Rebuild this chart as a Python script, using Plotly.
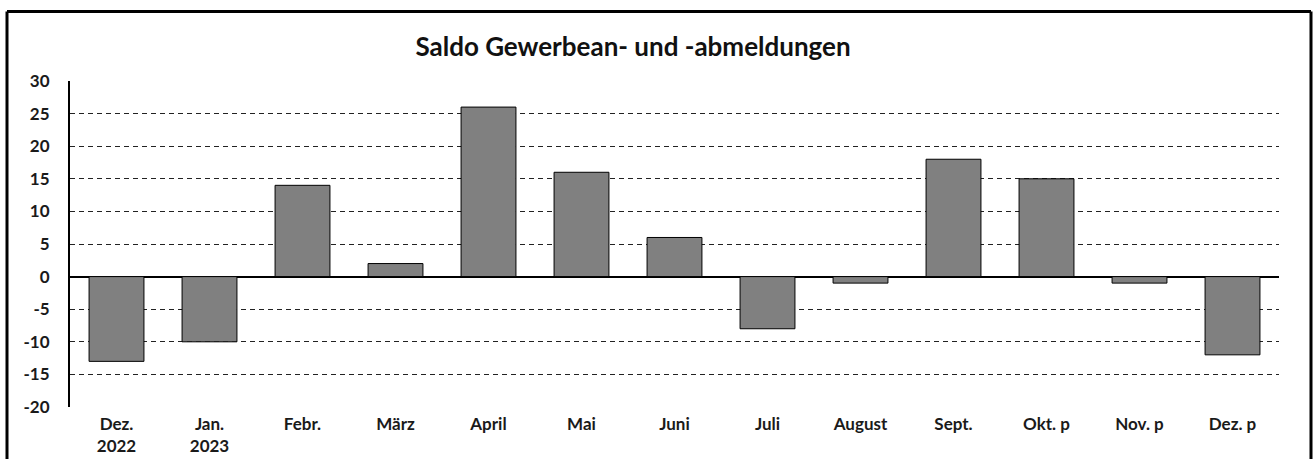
import plotly.graph_objects as go

categories = ["Dez.<br>2022", "Jan.<br>2023", "Febr.", "März", "April", "Mai", "Juni",
              "Juli", "August", "Sept.", "Okt. p", "Nov. p", "Dez. p"]
values = [-13, -10, 14, 2, 26, 16, 6, -8, -1, 18, 15, -1, -12]
y_ticks = [30, 25, 20, 15, 10, 5, 0, -5, -10, -15, -20]
y_tick_labels = ["30", "25", "20", "15", "10", "5", "0", "-5", "-10", "-15", "-20"]

W, H = 1313, 459
L, R, T, B = 70, 34, 81, 52
pw, ph = W - L - R, H - T - B

fig = go.Figure(go.Bar(
    x=categories, y=values,
    marker=dict(color="#808080", line=dict(color="black", width=1)),
    width=0.59,
))

def px_x(p):
    return (p - L) / pw

def px_y(p):
    return (H - B - p) / ph

fig.update_layout(
    width=W, height=H,
    margin=dict(l=L, r=R, t=T, b=B, autoexpand=False),
    paper_bgcolor="white", plot_bgcolor="white",
    font=dict(family="Lato", size=17, color="#1a1a1a"),
    title=dict(text="<b>Saldo Gewerbean- und -abmeldungen</b>", x=633 / W, xanchor="center",
               y=1 - 47 / H, yanchor="middle", font=dict(size=26, color="#111111")),
    showlegend=False,
    xaxis=dict(showgrid=False, showline=False, ticks="", tickfont=dict(size=17, weight="bold"),
               range=[-0.5, 12.5], ticklabelstandoff=5, automargin=False),
    yaxis=dict(range=[-20, 30], tickvals=y_ticks, ticktext=y_tick_labels, ticks="",
               showgrid=True, gridcolor="#222222", griddash="5px,4px", gridwidth=1.2,
               zeroline=True, zerolinecolor="black", zerolinewidth=2,
               showline=True, linecolor="black", linewidth=2, automargin=False,
               tickfont=dict(size=17, weight="bold"), ticklabelstandoff=15),
    shapes=[
        dict(type="line", xref="paper", yref="paper",
             x0=px_x(7), x1=px_x(7), y0=px_y(470), y1=px_y(11.5),
             line=dict(color="black", width=3)),
        dict(type="line", xref="paper", yref="paper",
             x0=px_x(7), x1=px_x(1311), y0=px_y(11.5), y1=px_y(11.5),
             line=dict(color="black", width=3)),
        dict(type="line", xref="paper", yref="paper",
             x0=px_x(1311), x1=px_x(1311), y0=px_y(470), y1=px_y(11.5),
             line=dict(color="black", width=3)),
    ],
)

fig.write_html("out.html", config={"displayModeBar": False},
               post_script="document.body.style.margin='0';document.body.style.overflow='hidden';")
